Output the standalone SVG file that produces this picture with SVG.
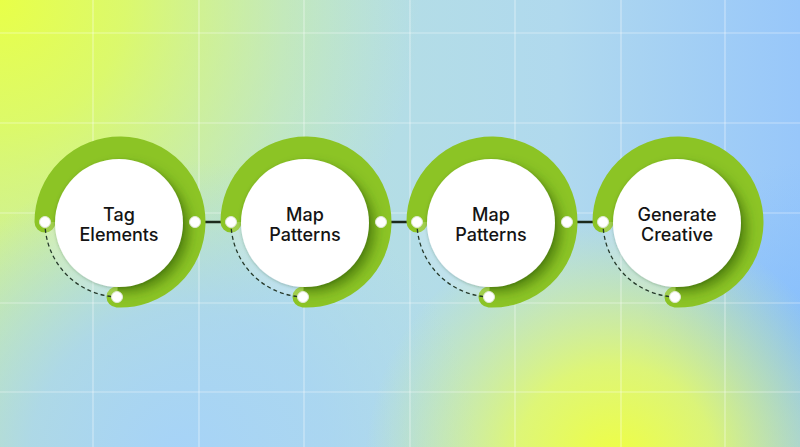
<svg xmlns="http://www.w3.org/2000/svg" width="800" height="447" viewBox="0 0 800 447">
<defs>
<linearGradient id="bgBase" x1="0" y1="0" x2="1" y2="0">
<stop offset="0" stop-color="#c6eba8"/>
<stop offset="0.35" stop-color="#b6e0e0"/>
<stop offset="0.7" stop-color="#b0d9ee"/>
<stop offset="1" stop-color="#98c7fa"/>
</linearGradient>
<radialGradient id="ylTL" cx="0" cy="0" r="420" gradientUnits="userSpaceOnUse">
<stop offset="0" stop-color="#e8ff48" stop-opacity="1"/>
<stop offset="0.3" stop-color="#e0fc5e" stop-opacity="0.85"/>
<stop offset="1" stop-color="#d0f2a0" stop-opacity="0"/>
</radialGradient>
<radialGradient id="ylBot" cx="615" cy="465" r="250" gradientUnits="userSpaceOnUse">
<stop offset="0" stop-color="#f0ff40" stop-opacity="1"/>
<stop offset="0.4" stop-color="#e6fb62" stop-opacity="0.85"/>
<stop offset="1" stop-color="#d6f48a" stop-opacity="0"/>
</radialGradient>
<radialGradient id="blBL" cx="180" cy="460" r="300" gradientUnits="userSpaceOnUse">
<stop offset="0" stop-color="#a6d3f8" stop-opacity="1"/>
<stop offset="0.5" stop-color="#a8d4f4" stop-opacity="0.8"/>
<stop offset="1" stop-color="#a8d4f4" stop-opacity="0"/>
</radialGradient>
<radialGradient id="blR" cx="820" cy="340" r="180" gradientUnits="userSpaceOnUse">
<stop offset="0" stop-color="#86befc" stop-opacity="1"/>
<stop offset="1" stop-color="#86befc" stop-opacity="0"/>
</radialGradient>
<clipPath id="pieClip">
<path d="M0 0 L-88 0 A88 88 0 1 1 -3 88 Z"/>
</clipPath>
<filter id="blur" x="-50%" y="-50%" width="200%" height="200%">
<feGaussianBlur stdDeviation="6"/>
</filter>
<filter id="wshadow" x="-30%" y="-30%" width="160%" height="160%">
<feDropShadow dx="0" dy="1" stdDeviation="1.5" flood-color="#1d3a10" flood-opacity="0.25"/>
</filter>
<style>
.grid{stroke:#ffffff;stroke-opacity:0.42;stroke-width:1.2}
.pie{fill:#8cc425}
.ring{fill:none;stroke:#8cc425;stroke-width:21;stroke-linecap:round}
.quad{fill:#ffffff;fill-opacity:0.18}
.shade{fill:#2f5a05;fill-opacity:0.6}
.face{fill:#ffffff}
.dash{fill:none;stroke:#25392a;stroke-width:1.3;stroke-dasharray:4 3}
.dot{fill:#ffffff;stroke:#dfe8d2;stroke-width:1}
.conn{stroke:#1c2a1c;stroke-width:2.6}
.lbl{font-family:Inter,"Liberation Sans",sans-serif;font-size:18px;font-weight:500;fill:#141414;text-anchor:middle}
</style>
</defs>

<g id="background">
<rect width="800" height="447" fill="url(#bgBase)"/>
<rect width="800" height="447" fill="url(#ylTL)"/>
<rect width="800" height="447" fill="url(#blBL)"/>
<rect width="800" height="447" fill="url(#blR)"/>
<rect width="800" height="447" fill="url(#ylBot)"/>
<g class="grid">
<line x1="93" y1="0" x2="93" y2="447"/>
<line x1="199" y1="0" x2="199" y2="447"/>
<line x1="304" y1="0" x2="304" y2="447"/>
<line x1="410" y1="0" x2="410" y2="447"/>
<line x1="515" y1="0" x2="515" y2="447"/>
<line x1="621" y1="0" x2="621" y2="447"/>
<line x1="725" y1="0" x2="725" y2="447"/>
<line x1="0" y1="33" x2="800" y2="33"/>
<line x1="0" y1="123" x2="800" y2="123"/>
<line x1="0" y1="213" x2="800" y2="213"/>
<line x1="0" y1="303" x2="800" y2="303"/>
<line x1="0" y1="392" x2="800" y2="392"/>
</g>
</g>

<g id="connectors">
<line class="conn" x1="195" y1="222" x2="231" y2="222"/>
<line class="conn" x1="381" y1="222" x2="417" y2="222"/>
<line class="conn" x1="567" y1="222" x2="603" y2="222"/>
</g>

<g id="node1" transform="translate(120,222)">
<path class="pie" d="M0 0 L-75 0 A75 75 0 1 1 -3 75 Z"/>
<path class="ring" d="M-75 0 A75 75 0 1 1 -3 75"/>
<path class="quad" d="M0 0 L-75 0 A75 75 0 0 0 -3 75 Z"/>
<g clip-path="url(#pieClip)"><circle class="shade" cx="6" cy="7" r="63" filter="url(#blur)"/></g>
<circle class="face" cx="-1" cy="1" r="64" filter="url(#wshadow)"/>
<path class="dash" d="M-75 0 A75 75 0 0 0 -3 75"/>
<circle class="dot" cx="-75" cy="0" r="5.5"/>
<circle class="dot" cx="75" cy="0" r="5.5"/>
<circle class="dot" cx="-3" cy="75" r="5.5"/>
<text class="lbl" x="-1" y="-1">Tag</text>
<text class="lbl" x="-1" y="19">Elements</text>
</g>

<g id="node2" transform="translate(306,222)">
<path class="pie" d="M0 0 L-75 0 A75 75 0 1 1 -3 75 Z"/>
<path class="ring" d="M-75 0 A75 75 0 1 1 -3 75"/>
<path class="quad" d="M0 0 L-75 0 A75 75 0 0 0 -3 75 Z"/>
<g clip-path="url(#pieClip)"><circle class="shade" cx="6" cy="7" r="63" filter="url(#blur)"/></g>
<circle class="face" cx="-1" cy="1" r="64" filter="url(#wshadow)"/>
<path class="dash" d="M-75 0 A75 75 0 0 0 -3 75"/>
<circle class="dot" cx="-75" cy="0" r="5.5"/>
<circle class="dot" cx="75" cy="0" r="5.5"/>
<circle class="dot" cx="-3" cy="75" r="5.5"/>
<text class="lbl" x="-1" y="-1">Map</text>
<text class="lbl" x="-1" y="19">Patterns</text>
</g>

<g id="node3" transform="translate(492,222)">
<path class="pie" d="M0 0 L-75 0 A75 75 0 1 1 -3 75 Z"/>
<path class="ring" d="M-75 0 A75 75 0 1 1 -3 75"/>
<path class="quad" d="M0 0 L-75 0 A75 75 0 0 0 -3 75 Z"/>
<g clip-path="url(#pieClip)"><circle class="shade" cx="6" cy="7" r="63" filter="url(#blur)"/></g>
<circle class="face" cx="-1" cy="1" r="64" filter="url(#wshadow)"/>
<path class="dash" d="M-75 0 A75 75 0 0 0 -3 75"/>
<circle class="dot" cx="-75" cy="0" r="5.5"/>
<circle class="dot" cx="75" cy="0" r="5.5"/>
<circle class="dot" cx="-3" cy="75" r="5.5"/>
<text class="lbl" x="-1" y="-1">Map</text>
<text class="lbl" x="-1" y="19">Patterns</text>
</g>

<g id="node4" transform="translate(678,222)">
<path class="pie" d="M0 0 L-75 0 A75 75 0 1 1 -3 75 Z"/>
<path class="ring" d="M-75 0 A75 75 0 1 1 -3 75"/>
<path class="quad" d="M0 0 L-75 0 A75 75 0 0 0 -3 75 Z"/>
<g clip-path="url(#pieClip)"><circle class="shade" cx="6" cy="7" r="63" filter="url(#blur)"/></g>
<circle class="face" cx="-1" cy="1" r="64" filter="url(#wshadow)"/>
<path class="dash" d="M-75 0 A75 75 0 0 0 -3 75"/>
<circle class="dot" cx="-75" cy="0" r="5.5"/>
<circle class="dot" cx="-3" cy="75" r="5.5"/>
<text class="lbl" x="-1" y="-1">Generate</text>
<text class="lbl" x="-1" y="19">Creative</text>
</g>
</svg>
